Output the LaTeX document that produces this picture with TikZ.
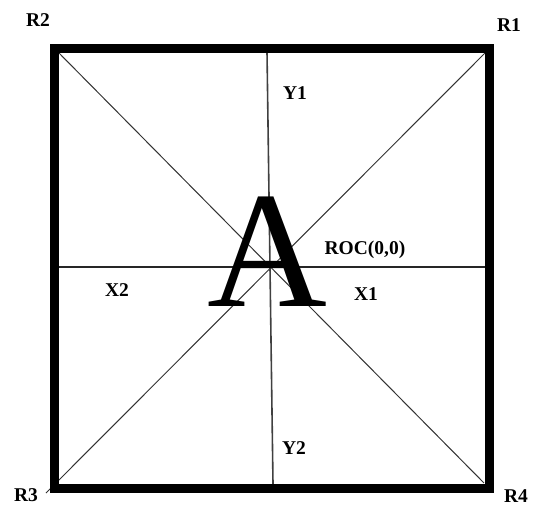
\documentclass[tikz,border=0pt]{standalone}
\usepackage{fontspec}
\setmainfont{Liberation Serif}
\begin{document}
\begin{tikzpicture}[x=1pt,y=-1pt,
  lbl/.style={font=\fontsize{19.5}{20}\selectfont\bfseries, inner sep=0pt, anchor=center},
  thin line/.style={line width=1pt, black!80},
  frame/.style={line width=9pt, black}]
\useasboundingbox (0,0) rectangle (534,507);
% frame corners (centre of thick stroke)
\coordinate (c2) at (54,48);
\coordinate (c1) at (489.5,48);
\coordinate (c3) at (54,488);
\coordinate (c4) at (489.5,488);
% inner corner points
\coordinate (i2) at (58,52);
\coordinate (i1) at (486,52);
\coordinate (i3) at (46,493);
\coordinate (i4) at (484,483);
\coordinate (yt) at (267,52);
\coordinate (yb) at (273,484);
\coordinate (xl) at (58,267);
\coordinate (xr) at (486,267);
% inner lines
\draw[thin line] (i2) -- (i4);
\draw[thin line] (i1) -- (i3);
\draw[line width=1.3pt, black!85] (xl) -- (xr);
\draw[line width=1.6pt, black!75] (yt) -- (yb);
% frame
\draw[frame, line join=miter] (c2) -- (c1) -- (c4) -- (c3) -- cycle;
% big letter
\node[inner sep=0pt, anchor=base, font=\fontsize{166}{166}\selectfont] (A) at (267.5,306) {A};
% labels
\node[lbl] (R2) at (38,20) {R2};
\node[lbl] (R1) at (509,25) {R1};
\node[lbl] (R3) at (26,495) {R3};
\node[lbl] (R4) at (516,496) {R4};
\node[lbl] (Y1) at (295,93) {Y1};
\node[lbl] (Y2) at (294,448) {Y2};
\node[lbl] (ROC) at (365,250) {ROC(0,0)};
\node[lbl] (X1) at (366,294) {X1};
\node[lbl] (X2) at (117,290) {X2};
\end{tikzpicture}
\end{document}
